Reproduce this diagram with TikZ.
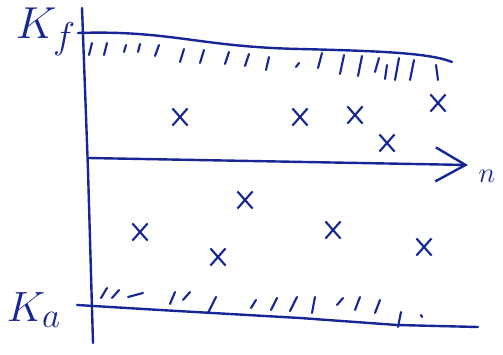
\documentclass[tikz,border=0pt]{standalone}
\usetikzlibrary{arrows.meta,shapes.misc}
\definecolor{ink}{RGB}{22,38,150}
\begin{document}
\begin{tikzpicture}[x=1pt,y=-1pt,
  pen/.style={draw=ink,line width=2.4pt,line cap=round,line join=round},
  hatch/.style={draw=ink,line width=2.1pt,line cap=round},
  crossmark/.style={cross out,draw=ink,line width=2.1pt,minimum width=13pt,minimum height=15pt,inner sep=0pt},
  lbl/.style={text=ink,inner sep=0pt}]
\useasboundingbox[fill=white] (0,0) rectangle (503,355);
% axis
\coordinate (axtop) at (82,8);
\coordinate (axbot) at (93,343);
\draw[pen] (axtop) -- (88,170) -- (axbot);
% top boundary K_f
\coordinate (t0) at (78,33);
\coordinate (t1) at (452,62);
\draw[pen] (t0) .. controls (170,30) and (200,47) .. (300,49) .. controls (380,51) and (430,53) .. (t1);
% bottom boundary K_a
\coordinate (b0) at (77,305);
\coordinate (b1) at (478,327);
\draw[pen] (b0) -- (160,310) -- (300,318) -- (397,325) -- (b1);
% n arrow
\coordinate (n0) at (88,158);
\coordinate (n1) at (468,165);
\draw[pen,-{Straight Barb[length=30pt,width=34pt,line width=2.4pt]}] (n0) -- (n1);
% labels
\node[lbl,font=\Huge,scale=1.8] (kf) at (46,32) {$K_f$};
\node[lbl,font=\Huge,scale=1.7] (ka) at (34,310) {$K_a$};
\node[lbl,font=\Huge,scale=1.15] (n) at (487,176) {$n$};
% top hatches
\foreach \a/\b/\c/\d in {92/43/89/55,107/43/104/55,126/45/124/52,140/44/138/52,159/45/155/56,184/49/180/62,204/50/200/63,229/52/225/64,249/54/245/66,269/57/266/70,299/63/296/67,322/53/318/68,344/55/340/74,362/56/358/76,379/58/375/72,387/65/385/79,399/58/395/80,414/60/410/80,436/65/438/80}
  \draw[hatch] (\a,\b) -- (\c,\d);
% bottom hatches
\foreach \a/\b/\c/\d in {107/288/101/298,119/290/112/298,128/297/143/293,175/292/170/304,190/292/183/300,216/297/208/313,256/300/251/308,277/298/271/310,297/297/290/311,315/297/312/313,343/298/337/305,360/297/355/310,380/300/375/313,401/312/398/327,421/315/422/317}
  \draw[hatch] (\a,\b) -- (\c,\d);
% crosses
\node[crossmark] (x1) at (180,117) {};
\node[crossmark] (x2) at (300,117) {};
\node[crossmark] (x3) at (355,115) {};
\node[crossmark] (x4) at (438,103) {};
\node[crossmark] (x5) at (387,143) {};
\node[crossmark] (x6) at (245,200) {};
\node[crossmark] (x7) at (140,232) {};
\node[crossmark] (x8) at (333,230) {};
\node[crossmark] (x9) at (218,257) {};
\node[crossmark] (x10) at (424,247) {};
\end{tikzpicture}
\end{document}
